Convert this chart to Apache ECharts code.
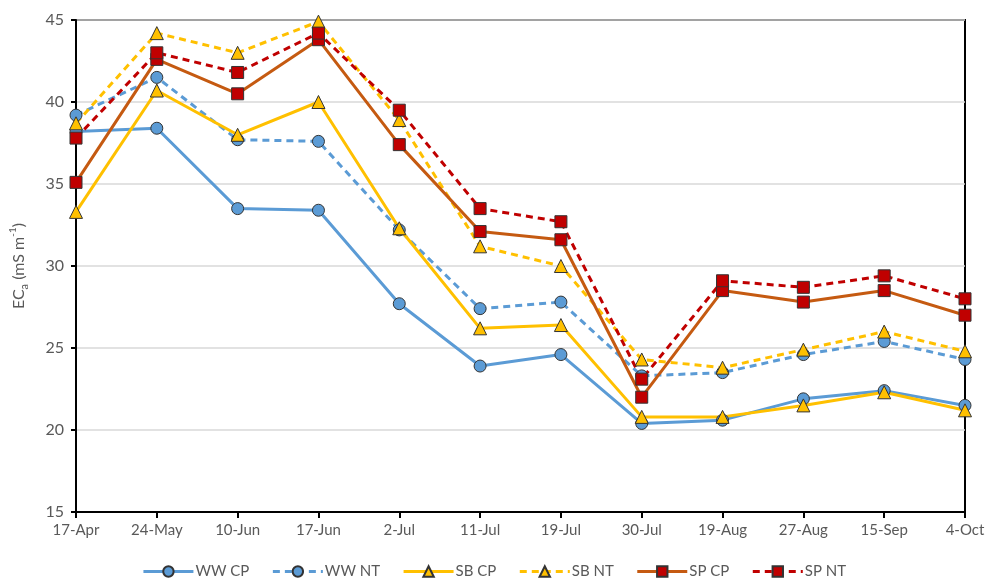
<!DOCTYPE html>
<html>
<head>
<meta charset="utf-8">
<script src="https://cdn.jsdelivr.net/npm/echarts@6/dist/echarts.min.js"></script>
<style>
  html, body { margin: 0; padding: 0; background: #fff; }
  #main { width: 988px; height: 580px; }
</style>
</head>
<body>
<div id="main"></div>
<script>
const dates = ['17-Apr', '24-May', '10-Jun', '17-Jun', '2-Jul', '11-Jul', '19-Jul', '30-Jul', '19-Aug', '27-Aug', '15-Sep', '4-Oct'];

const wwCP = [38.2, 38.4, 33.5, 33.4, 27.7, 23.9, 24.6, 20.4, 20.6, 21.9, 22.4, 21.5];
const wwNT = [39.2, 41.5, 37.7, 37.6, 32.2, 27.4, 27.8, 23.3, 23.5, 24.6, 25.4, 24.3];
const sbCP = [33.3, 40.7, 38.0, 40.0, 32.3, 26.2, 26.4, 20.8, 20.8, 21.5, 22.3, 21.2];
const sbNT = [38.7, 44.2, 43.0, 44.9, 38.9, 31.2, 30.0, 24.3, 23.8, 24.9, 26.0, 24.8];
const spCP = [35.1, 42.6, 40.5, 43.8, 37.4, 32.1, 31.6, 22.0, 28.5, 27.8, 28.5, 27.0];
const spNT = [37.8, 43.0, 41.8, 44.2, 39.5, 33.5, 32.7, 23.1, 29.1, 28.7, 29.4, 28.0];

const yTicks = [15, 20, 25, 30, 35, 40, 45];

const textColor = '#595959';
const font = 'Lato';

function makeSeries(name, data, color, markerColor, symbol, size, dashed) {
  return {
    name: name,
    type: 'line',
    data: data,
    symbol: symbol,
    symbolSize: size,
    lineStyle: { color: color, width: 3, type: dashed ? [7, 5] : 'solid' },
    itemStyle: { color: markerColor, borderColor: '#333', borderWidth: 1 },
    emphasis: { disabled: true }
  };
}

const chart = echarts.init(document.getElementById('main'), null, { renderer: 'canvas' });

chart.setOption({
  animation: false,
  textStyle: { fontFamily: font },
  grid: {
    left: 68, right: 23, top: 20, bottom: 68,
    show: true, borderColor: '#000', borderWidth: 2
  },
  legend: {
    bottom: -4,
    left: 'center',
    itemWidth: 50,
    itemHeight: 13,
    itemGap: 22,
    lineStyle: { width: 3 },
    textStyle: { color: textColor, fontSize: 15, fontFamily: font, padding: [0, 0, 0, -3] }
  },
  xAxis: {
    type: 'category',
    data: dates,
    boundaryGap: false,
    axisLine: { lineStyle: { color: '#000', width: 2 } },
    axisTick: { show: true, length: 6, lineStyle: { color: '#000', width: 2 } },
    axisLabel: { color: textColor, fontSize: 15, margin: 11, interval: 0 }
  },
  yAxis: {
    type: 'value',
    min: yTicks[0],
    max: yTicks[yTicks.length - 1],
    interval: 5,
    name: '{b|EC}{sub|a}{b| (mS m}{sup|-1}{b|)}',
    nameLocation: 'middle',
    nameGap: 46,
    nameRotate: 90,
    nameTextStyle: {
      rich: {
        b: { fontSize: 16, color: textColor, lineHeight: 22, verticalAlign: 'middle', fontFamily: font },
        sub: { fontSize: 11, color: textColor, lineHeight: 22, verticalAlign: 'bottom', fontFamily: font },
        sup: { fontSize: 10, color: textColor, lineHeight: 22, verticalAlign: 'top', fontFamily: font }
      }
    },
    axisLine: { show: true, lineStyle: { color: '#000', width: 2 } },
    axisTick: { show: true, length: 5, lineStyle: { color: '#000', width: 2 } },
    axisLabel: { color: textColor, fontSize: 16, margin: 12 },
    splitLine: { lineStyle: { color: '#d9d9d9', width: 1.5 } }
  },
  series: [
    makeSeries('WW CP', wwCP, '#5B9BD5', '#5B9BD5', 'circle', 12, false),
    makeSeries('WW NT', wwNT, '#5B9BD5', '#5B9BD5', 'circle', 12, true),
    makeSeries('SB CP', sbCP, '#FFC000', '#FFC000', 'triangle', 13, false),
    makeSeries('SB NT', sbNT, '#FFC000', '#FFC000', 'triangle', 13, true),
    makeSeries('SP CP', spCP, '#C55A11', '#C00000', 'rect', 12, false),
    makeSeries('SP NT', spNT, '#C00000', '#C00000', 'rect', 12, true)
  ]
});
</script>
</body>
</html>
